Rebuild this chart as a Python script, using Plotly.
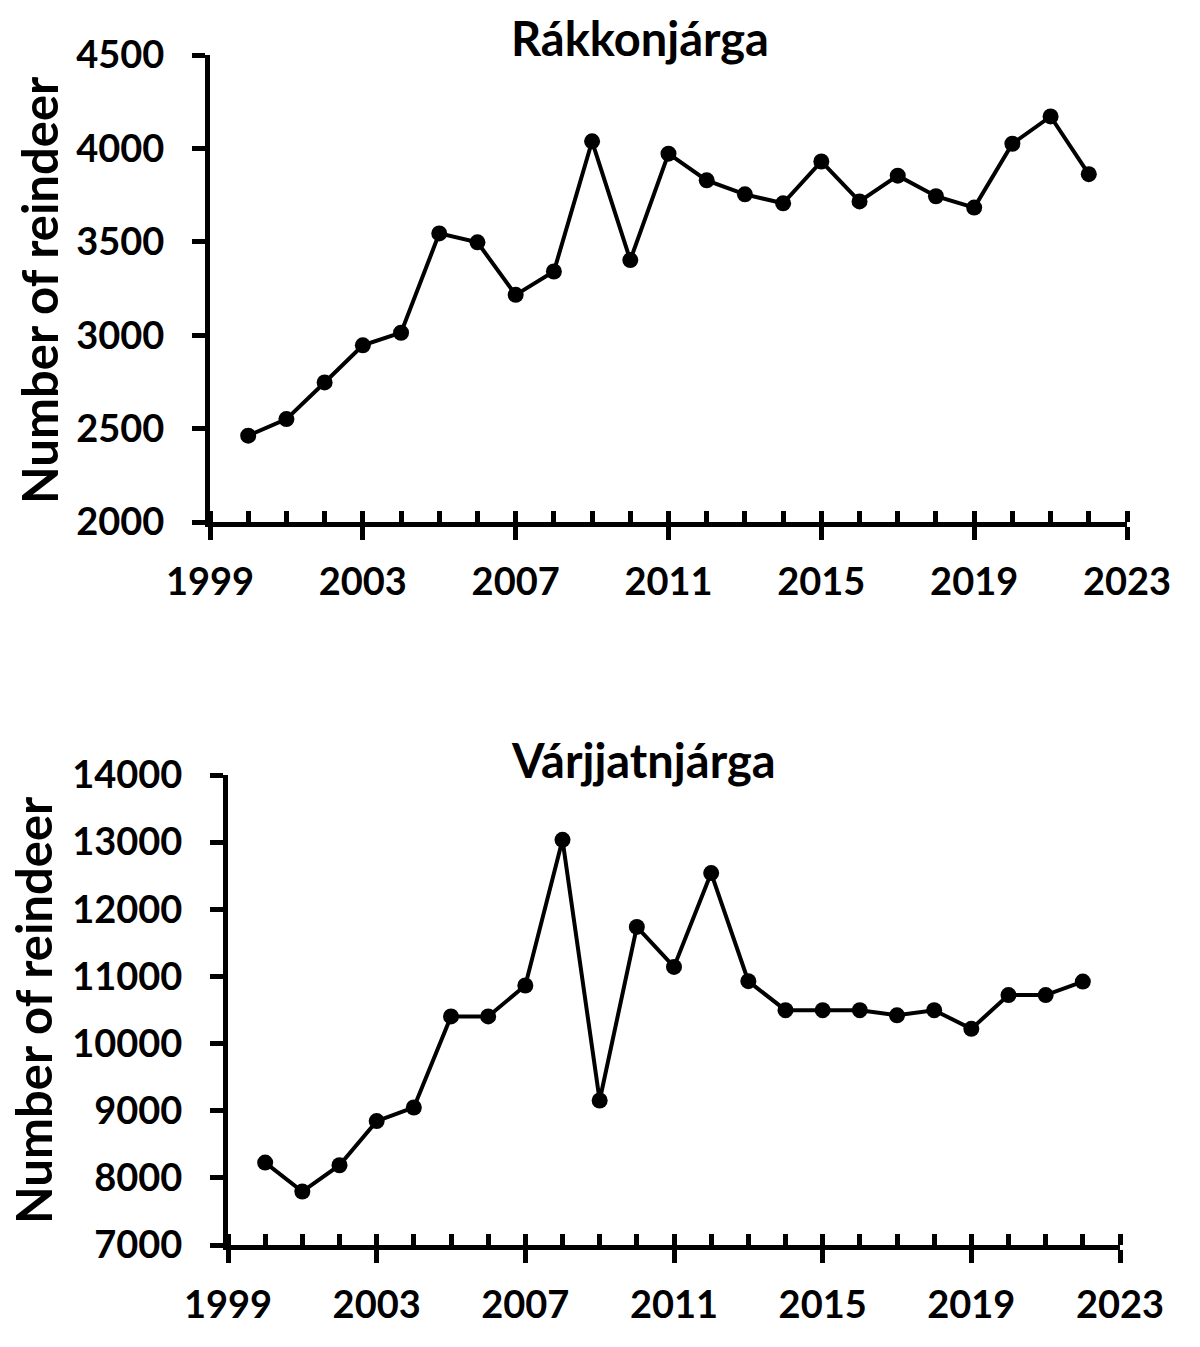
import plotly.graph_objects as go

years = list(range(2000, 2023))
rakkonjarga = [2462, 2551, 2747, 2946, 3013, 3545, 3497, 3216, 3341, 4038,
               3402, 3972, 3829, 3754, 3706, 3930, 3716, 3854, 3744, 3683,
               4025, 4171, 3862]
varjjatnjarga = [8228, 7796, 8188, 8845, 9048, 10404, 10404, 10865, 13035, 9152,
                 11737, 11142, 12539, 10929, 10497, 10497, 10497, 10421, 10497, 10219,
                 10722, 10722, 10923]
x_ticks = [1999, 2003, 2007, 2011, 2015, 2019, 2023]
y_ticks_top = [2000, 2500, 3000, 3500, 4000, 4500]
y_ticks_bot = [7000, 8000, 9000, 10000, 11000, 12000, 13000, 14000]
titles = ["Rákkonjárga", "Várjjatnjárga"]
ytitle = "Number of reindeer"

W, H = 1200, 1347
FONT = "Lato"
BLK = "#000000"

def px(v):
    return v / W

def py(v):
    return 1 - v / H

fig = go.Figure()
line = dict(color=BLK, width=4)
marker = dict(color=BLK, size=16)
fig.add_trace(go.Scatter(x=years, y=rakkonjarga, mode="lines+markers", line=line,
                         marker=marker, xaxis="x", yaxis="y", showlegend=False))
fig.add_trace(go.Scatter(x=years, y=varjjatnjarga, mode="lines+markers", line=line,
                         marker=marker, xaxis="x2", yaxis="y2", showlegend=False))
# dummy traces for overlay tick axes (inner half of the crossing major ticks)
fig.add_trace(go.Scatter(x=[], y=[], xaxis="x3", yaxis="y", showlegend=False))
fig.add_trace(go.Scatter(x=[], y=[], xaxis="x4", yaxis="y2", showlegend=False))

tickfont = dict(family=FONT, size=38, color=BLK, weight="bold")

def xax(dom, anchor):
    return dict(domain=dom, anchor=anchor, range=[1999, 2023], tickmode="array",
                tickvals=x_ticks, ticktext=[str(v) for v in x_ticks],
                ticks="outside", ticklen=13, tickwidth=5,
                tickcolor=BLK, showline=True, linewidth=5, linecolor=BLK,
                showgrid=False, zeroline=False, tickfont=tickfont,
                ticklabelstandoff=9, automargin=False,
                minor=dict(ticks="inside", dtick=1, tick0=1999, ticklen=11,
                           tickwidth=5, tickcolor=BLK, showgrid=False))

def xover(over, anchor, dom):
    return dict(overlaying=over, anchor=anchor, domain=dom, range=[1999, 2023],
                tickmode="array", tickvals=x_ticks, ticks="inside", ticklen=11,
                tickwidth=5, tickcolor=BLK, showticklabels=False, showline=False,
                showgrid=False, zeroline=False, automargin=False)

def yax(dom, anchor, rng, tv):
    return dict(domain=dom, anchor=anchor, range=rng, tickmode="array", tickvals=tv,
                ticktext=[str(v) for v in tv],
                ticks="outside", ticklen=13, tickwidth=5, tickcolor=BLK,
                showline=True, linewidth=5, linecolor=BLK, showgrid=False,
                zeroline=False, tickfont=tickfont, ticklabelstandoff=20,
                automargin=False)

dx1 = [px(210), px(1127)]
dy1 = [py(522), py(55)]
dx2 = [px(228), px(1120)]
dy2 = [py(1245), py(775)]

fig.update_layout(
    template="none",
    width=W, height=H, margin=dict(l=0, r=0, t=0, b=0, autoexpand=False),
    paper_bgcolor="white", plot_bgcolor="white",
    xaxis=xax(dx1, "y"), yaxis=yax(dy1, "x", [2000, 4500], y_ticks_top),
    xaxis2=xax(dx2, "y2"), yaxis2=yax(dy2, "x2", [7000, 14000], y_ticks_bot),
    xaxis3=xover("x", "y", dx1), xaxis4=xover("x2", "y2", dx2),
    annotations=[
        dict(text=titles[0], x=px(640), y=py(38), xref="paper", yref="paper",
             showarrow=False, xanchor="center", yanchor="middle",
             font=dict(family=FONT, size=47, color=BLK, weight="bold")),
        dict(text=titles[1], x=px(643), y=py(760), xref="paper", yref="paper",
             showarrow=False, xanchor="center", yanchor="middle",
             font=dict(family=FONT, size=47, color=BLK, weight="bold")),
        dict(text=ytitle, x=px(39), y=py(290), xref="paper", yref="paper",
             showarrow=False, xanchor="center", yanchor="middle", textangle=-90,
             font=dict(family=FONT, size=49, color=BLK, weight="bold")),
        dict(text=ytitle, x=px(33), y=py(1010), xref="paper", yref="paper",
             showarrow=False, xanchor="center", yanchor="middle", textangle=-90,
             font=dict(family=FONT, size=49, color=BLK, weight="bold")),
    ],
)

fig.write_html("out.html")
